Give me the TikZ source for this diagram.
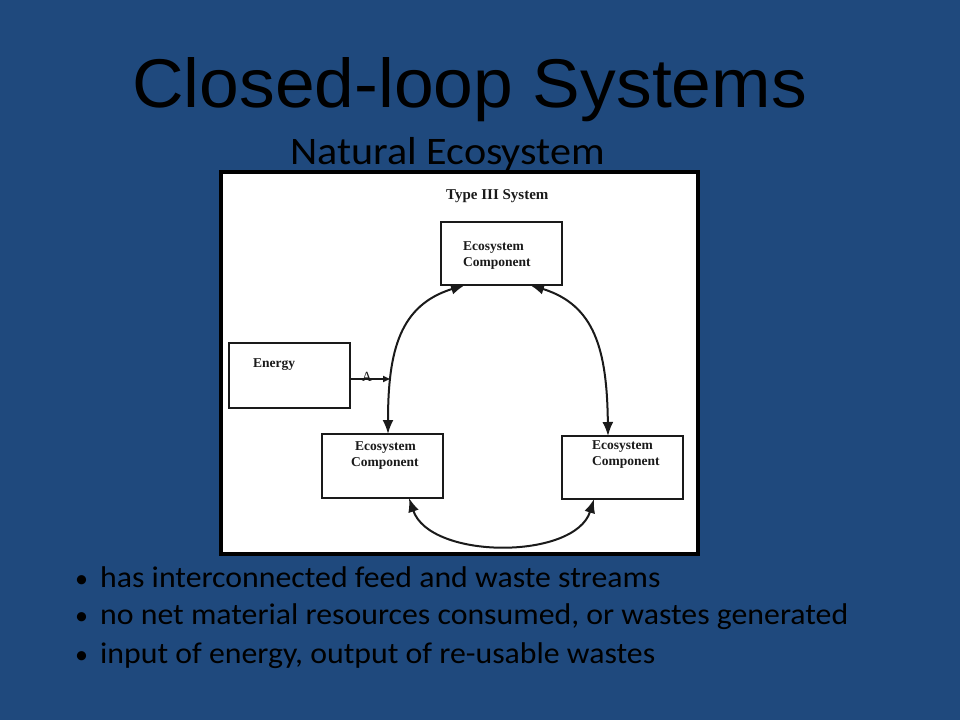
\documentclass[tikz,border=0pt]{standalone}
\usepackage{fontspec}
\usetikzlibrary{arrows.meta}
\newfontfamily\titlefont{Liberation Sans}
\newfontfamily\calfont{Carlito}
\newfontfamily\serfont{Liberation Serif}
\definecolor{slidebg}{HTML}{1F497D}
\definecolor{ink}{HTML}{1A1A1A}
\tikzset{
  box/.style={draw=ink, line width=2pt, fill=white, inner sep=0pt, outer sep=0pt},
  boxtext/.style={font=\serfont\bfseries\fontsize{13.5}{13.5}\selectfont, text=ink, anchor=base west, inner sep=0pt},
  flow/.style={draw=ink, line width=2pt, {Latex[length=14pt,width=11pt]}-{Latex[length=14pt,width=11pt]}},
  bullettext/.style={font=\calfont\fontsize{30}{30}\selectfont, text=black, anchor=base west, inner sep=0pt},
}
\begin{document}
\begin{tikzpicture}[x=1pt,y=-1pt]
\useasboundingbox (0,0) rectangle (960,720);
\fill[slidebg] (0,0) rectangle (960,720);
% title
\node[font=\titlefont\fontsize{69}{69}\selectfont, anchor=base west, inner sep=0pt] (title) at (132,107) {\scalebox{1.035}[1]{Closed-loop Systems}};
\node[font=\calfont\fontsize{39}{39}\selectfont, anchor=base west, inner sep=0pt] (sub) at (290,164) {\scalebox{1.08}[1]{Natural Ecosystem}};
% diagram panel
\node[draw=black, line width=4pt, fill=white, minimum width=477pt, minimum height=382pt, inner sep=0pt, outer sep=0pt, anchor=north west] (panel) at (221,172) {};
\node[font=\serfont\bfseries\fontsize{15}{15}\selectfont, text=ink, anchor=base west, inner sep=0pt] (typeiii) at (446,199) {Type III System};
% boxes
\node[box, minimum width=121pt, minimum height=63pt, anchor=north west] (top) at (441,222) {};
\node[box, minimum width=121pt, minimum height=65pt, anchor=north west] (energy) at (229,343) {};
\node[box, minimum width=121pt, minimum height=64pt, anchor=north west] (left) at (322,434) {};
\node[box, minimum width=121pt, minimum height=63pt, anchor=north west] (right) at (562,436) {};
% box texts
\node[boxtext] (t1) at (463,250) {Ecosystem};
\node[boxtext] (t2) at (463,266) {Component};
\node[boxtext] (e1) at (253,367) {Energy};
\node[boxtext] (l1) at (355,450) {Ecosystem};
\node[boxtext] (l2) at (351,466) {Component};
\node[boxtext] (r1) at (592,449) {Ecosystem};
\node[boxtext] (r2) at (592,465) {Component};
% flows
\coordinate (tl) at (465,285);
\coordinate (tr) at (530,285);
\coordinate (lt) at (388,434);
\coordinate (lb) at (409,498);
\coordinate (rt) at (608,436);
\coordinate (rb) at (594,499);
\draw[flow] (tl) .. controls (400,305) and (388,350) .. (lt);
\draw[flow] (tr) .. controls (595,305) and (607,350) .. (rt);
\draw[flow] (lb) .. controls (430,560) and (575,560) .. (rb);
\coordinate (meet) at (391,379);
\draw[draw=ink, line width=1.5pt, -{Latex[length=8pt,width=7pt]}] (energy.east |- meet) -- (meet);
\node[font=\serfont\fontsize{14}{14}\selectfont, text=ink, inner sep=0pt] (amark) at (367,377) {A};
% bullets
\foreach \y/\t [count=\i] in {587/has interconnected feed and waste streams,624/{no net material resources consumed, or wastes generated},663/{input of energy, output of re-usable wastes}} {
  \node[font=\calfont\fontsize{26}{26}\selectfont, anchor=base west, inner sep=0pt] (dot\i) at (75,\y) {•};
  \node[bullettext] (b\i) at (100,\y) {\scalebox{1.06}[1]{\t}};
}
\end{tikzpicture}
\end{document}
